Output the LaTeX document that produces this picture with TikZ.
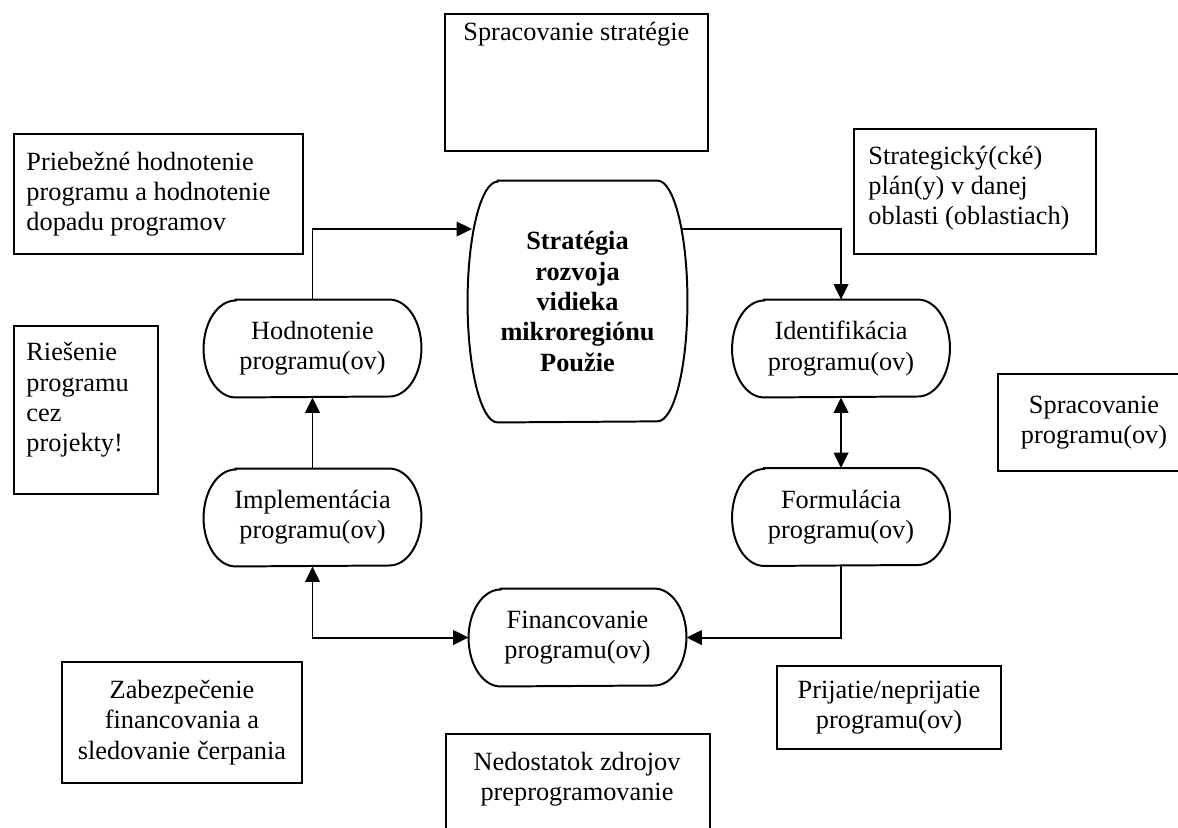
\documentclass[tikz,border=0pt]{standalone}
\usepackage{fontspec}
\setmainfont{Liberation Serif}
\usetikzlibrary{arrows.meta}
\newcommand{\termdraw}[3]{%
  \draw[line] ([xshift=#2]#1.north west) -- ([xshift=-#2]#1.north east)
    arc[start angle=90,end angle=-90,x radius=#2,y radius=#3]
    -- ([xshift=#2]#1.south west)
    arc[start angle=270,end angle=90,x radius=#2,y radius=#3] -- cycle;}
\begin{document}
\begin{tikzpicture}[x=0.456pt,y=-0.456pt,
  line/.style={line width=0.9pt},
  tip/.tip={Triangle[length=7pt,width=6.6pt]},
  arr/.style={line,-tip},
  darr/.style={line,tip-tip},
  txt/.style={font=\fontsize{12pt}{13.8pt}\selectfont,inner sep=0pt},
  boxwh/.style 2 args={draw,line width=0.9pt,inner sep=0pt,anchor=north west,
    minimum width=#1*0.456pt,minimum height=#2*0.456pt},
  term/.style={txt,align=center,minimum width=217*0.456pt,minimum height=97*0.456pt}]
\useasboundingbox (0,0) rectangle (1178,827);
\clip (0,0) rectangle (1178,827);
\fill[white] (0,0) rectangle (1178,827);

% ---- rectangular comment boxes ----
\node[boxwh={263}{137}] (sstrat) at (444,13) {};
\node[txt,anchor=base west] (sstratT) at (463,40) {Spracovanie stratégie};

\node[boxwh={289}{120}] (prieb) at (13,133) {};
\node[txt,anchor=west,align=left] (priebT) at (26,194)
  {Priebežné hodnotenie\\programu a hodnotenie\\dopadu programov};

\node[boxwh={242}{125}] (strpl) at (853,128) {};
\node[txt,anchor=west,align=left] (strplT) at (868,188)
  {Strategický(cké)\\plán(y) v danej\\oblasti (oblastiach)};

\node[boxwh={144}{168}] (ries) at (13,325) {};
\node[txt,anchor=west,align=left] (riesT) at (26,400)
  {Riešenie\\programu\\cez\\projekty!};

\node[boxwh={192}{97},txt,align=center] (sprog) at (997,373)
  {Spracovanie\\programu(ov)};

\node[boxwh={240}{121},txt,align=center] (zabez) at (61,661)
  {Zabezpečenie\\financovania a\\sledovanie čerpania};

\node[boxwh={224}{83},txt,align=center] (prij) at (776,665)
  {Prijatie/neprijatie\\programu(ov)};

\node[boxwh={264}{140}] (nedo) at (445,733) {};
\node[txt,align=center] (nedoT) at (577,779)
  {Nedostatok zdrojov\\preprogramovanie};

% ---- process nodes ----
\node[txt,align=center,font=\fontsize{12pt}{13.8pt}\selectfont\bfseries,
  minimum width=219*0.456pt,minimum height=241*0.456pt] (C) at (577.5,301.5)
  {Stratégia\\rozvoja\\vidieka\\mikroregiónu\\Použie};
\termdraw{C}{13.7pt}{54.9pt}

\node[term] (H) at (312.5,348.5) {Hodnotenie\\programu(ov)};
\node[term] (I) at (312.5,517.5) {Implementácia\\programu(ov)};
\node[term] (Id) at (841,348.5) {Identifikácia\\programu(ov)};
\node[term] (F) at (841,517) {Formulácia\\programu(ov)};
\node[term] (Fin) at (577.5,637.5) {Financovanie\\programu(ov)};
\foreach \n in {H,I,Id,F,Fin}{\termdraw{\n}{14.6pt}{22.1pt}}

% ---- connectors ----
\coordinate (cinL) at (472,229);
\coordinate (coutR) at (682,229);
\draw[arr] (H.north) |- (cinL);
\draw[arr] (coutR) -| (Id.north);
\draw[darr] (Id.south) -- (F.north);
\draw[arr] (F.south) |- (Fin.east);
\draw[darr] (Fin.west) -| (I.south);
\draw[arr] (I.north) -- (H.south);
\end{tikzpicture}
\end{document}
